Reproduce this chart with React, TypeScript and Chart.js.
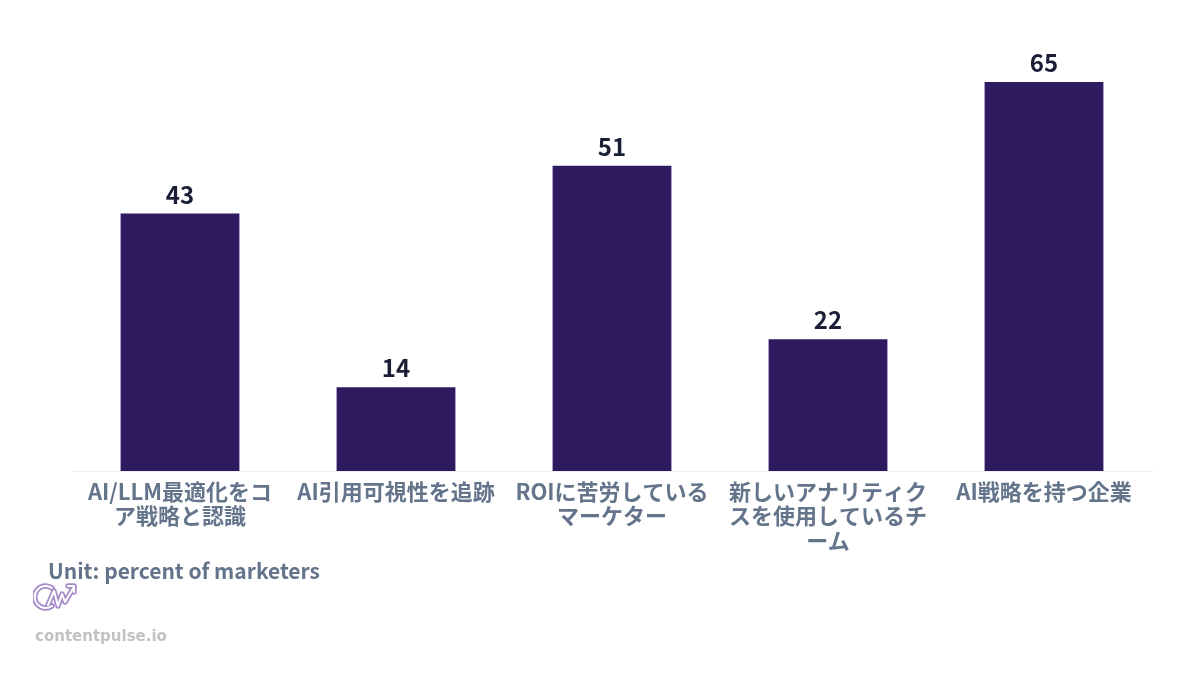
import React, { useEffect, useRef } from "react";
import { Chart, registerables } from "chart.js";

Chart.register(...registerables);

const categories: string[][] = [
  ["AI/LLM最適化をコ", "ア戦略と認識"],
  ["AI引用可視性を追跡"],
  ["ROIに苦労している", "マーケター"],
  ["新しいアナリティク", "スを使用しているチ", "ーム"],
  ["AI戦略を持つ企業"],
];
const values: number[] = [43, 14, 51, 22, 65];
const yMax = 70;

const FONT = "'Noto Sans CJK JP', 'Noto Sans', sans-serif";

const valueLabels = {
  id: "valueLabels",
  afterDatasetsDraw(chart: any) {
    const ctx = chart.ctx;
    const meta = chart.getDatasetMeta(0);
    ctx.save();
    ctx.font = `bold 24px ${FONT}`;
    ctx.fillStyle = "#1a1f36";
    ctx.textAlign = "center";
    ctx.textBaseline = "bottom";
    meta.data.forEach((el: any, i: number) => {
      ctx.fillText(String(values[i]), el.x, el.y - 7);
    });
    ctx.restore();
  },
};

function Logo() {
  const d = "M19 8 A11 11 0 1 0 19 26 M15 25 L21 11 L25 26 L29 14 L32 22 L41 7 M35 6 L41 6 L41 12";
  return (
    <svg width="48" height="34" viewBox="0 0 48 34" style={{ position: "absolute", left: 33, top: 580 }}>
      <g fill="none" strokeLinecap="round" strokeLinejoin="round">
        <path d={d} stroke="#a68bc9" strokeWidth="5.5" />
        <path d={d} stroke="#ffffff" strokeWidth="2" />
      </g>
    </svg>
  );
}

export default function App() {
  const canvasRef = useRef<HTMLCanvasElement | null>(null);

  useEffect(() => {
    if (!canvasRef.current) return;
    const chart = new Chart(canvasRef.current, {
      type: "bar",
      data: {
        labels: categories,
        datasets: [
          {
            data: values,
            backgroundColor: "#2e1a5f",
            borderWidth: 0,
            categoryPercentage: 1,
            barPercentage: 0.55,
          },
        ],
      },
      options: {
        animation: false,
        responsive: true,
        maintainAspectRatio: false,
        layout: { padding: { left: 72, right: 48, top: 52, bottom: 0 } },
        plugins: {
          legend: { display: false },
          tooltip: { enabled: false },
        },
        scales: {
          x: {
            grid: { display: false },
            border: { display: true, color: "#eceef2", width: 1 },
            ticks: {
              color: "#64748b",
              font: { family: FONT, size: 22, weight: "bold", lineHeight: 1.12 },
              padding: 0,
              maxRotation: 0,
              autoSkip: false,
            },
            afterFit: (scale: any) => {
              scale.height = 89;
            },
          },
          y: {
            display: false,
            min: 0,
            max: yMax,
          },
        },
      },
      plugins: [valueLabels],
    });
    return () => chart.destroy();
  }, []);

  return (
    <div style={{ position: "absolute", left: 0, top: 0, width: 1200, height: 675, background: "#ffffff", fontFamily: FONT, overflow: "hidden" }}>
      <div style={{ position: "absolute", left: 0, top: 0, width: 1200, height: 560 }}>
        <canvas ref={canvasRef} />
      </div>
      <div style={{ position: "absolute", left: 48, top: 555, fontSize: 21, fontWeight: 700, color: "#64748b", lineHeight: "30px", whiteSpace: "nowrap" }}>
        Unit: percent of marketers
      </div>
      <Logo />
      <div style={{ position: "absolute", left: 35, top: 625, fontSize: 15, fontWeight: 700, color: "#c2c2c2", lineHeight: "22px", whiteSpace: "nowrap", fontFamily: "'DejaVu Sans', sans-serif" }}>
        contentpulse.io
      </div>
    </div>
  );
}
